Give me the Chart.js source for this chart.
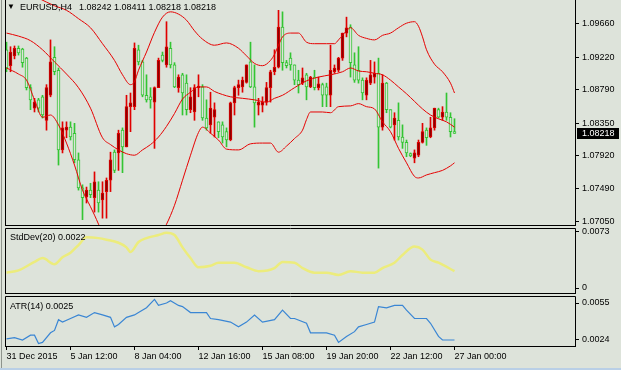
<!DOCTYPE html>
<html><head><meta charset="utf-8">
<script src="https://cdn.jsdelivr.net/npm/chart.js@4.4.1/dist/chart.umd.min.js"></script>
<style>
html,body{margin:0;padding:0;background:#dde3da;}
#wrap{position:relative;width:621px;height:370px;overflow:hidden;background:#dde3da;font-family:'Liberation Sans',Arial,sans-serif;}
canvas{position:absolute;left:0;top:0;}
.lbl{position:absolute;font-size:9px;line-height:10px;color:#000;white-space:nowrap;}
#edgeL{position:absolute;left:1px;top:0;width:1px;height:370px;background:#8e948c;}
#edgeB{position:absolute;left:0;top:368px;width:621px;height:2px;background:#b9cfe6;}
</style></head><body>
<div id="wrap">
<div id="edgeL"></div><div id="edgeB"></div>
<canvas id="cMain" width="621" height="370"></canvas>
<canvas id="cStd" width="621" height="370"></canvas>
<canvas id="cAtr" width="621" height="370"></canvas>
<div class="lbl" style="left:7px;top:2px;font-size:8px">&#9660;</div>
<div class="lbl" id="hdr" style="left:20px;top:2px"></div>
<div class="lbl" id="stdLbl" style="left:10px;top:232px"></div>
<div class="lbl" id="atrLbl" style="left:10px;top:301px"></div>
</div>
<script>
// ---------------- DATA ----------------
const symbol = 'EURUSD,H4';
const open = [1.0932,1.0911,1.0924,1.0934,1.0933,1.0921,1.0882,1.0855,1.0866,1.0870,
1.0839,1.0872,1.0922,1.0905,1.0800,1.0826,1.0830,1.0822,1.0787,1.0750,
1.0738,1.0747,1.0737,1.0747,1.0734,1.0745,1.0760,1.0797,1.0796,1.0826,
1.0804,1.0857,1.0857,1.0932,1.0916,1.0872,1.0870,1.0863,1.0882,1.0925,
1.0912,1.0934,1.0912,1.0882,1.0899,1.0888,1.0853,1.0850,1.0882,1.0883,
1.0842,1.0833,1.0843,1.0837,1.0833,1.0824,1.0813,1.0862,1.0882,1.0883,
1.0889,1.0916,1.0883,1.0859,1.0859,1.0863,1.0882,1.0903,1.0909,1.0962,
1.0915,1.0921,1.0912,1.0892,1.0888,1.0899,1.0883,1.0896,1.0882,1.0886,
1.0883,1.0872,1.0903,1.0905,1.0921,1.0954,1.0962,1.0912,1.0905,1.0892,
1.0872,1.0888,1.0896,1.0901,1.0830,1.0888,1.0853,1.0833,1.0839,1.0817,
1.0810,1.0795,1.0789,1.0793,1.0810,1.0826,1.0817,1.0829,1.0853,1.0843,
1.0850,1.0843,1.08242];
const high = [1.0942,1.0936,1.0937,1.0937,1.0934,1.0922,1.0886,1.0868,1.0868,1.0872,
1.0886,1.0945,1.0936,1.0908,1.0837,1.0837,1.0837,1.0835,1.0796,1.0754,
1.0751,1.0756,1.0771,1.0758,1.0758,1.0763,1.0797,1.0800,1.0826,1.0829,
1.0872,1.0875,1.0941,1.0938,1.0918,1.0899,1.0882,1.0883,1.0921,1.0929,
1.0969,1.0942,1.0915,1.0899,1.0901,1.0899,1.0882,1.0886,1.0899,1.0886,
1.0866,1.0876,1.0862,1.0837,1.0837,1.0829,1.0863,1.0884,1.0892,1.0896,
1.0912,1.0942,1.0912,1.0868,1.0870,1.0889,1.0905,1.0932,1.0984,1.0982,
1.0918,1.0928,1.0912,1.0905,1.0908,1.0901,1.0897,1.0905,1.0896,1.0888,
1.0888,1.0938,1.0912,1.0922,1.0954,1.0975,1.0965,1.0928,1.0936,1.0895,
1.0895,1.0918,1.0916,1.0921,1.0899,1.0889,1.0853,1.0849,1.0862,1.0833,
1.0813,1.0796,1.0800,1.0813,1.0835,1.0829,1.0843,1.0855,1.0855,1.0857,
1.0875,1.0849,1.08411];
const low = [1.0903,1.0903,1.0920,1.0925,1.0909,1.0879,1.0853,1.0850,1.0850,1.0842,
1.0826,1.0870,1.0899,1.0780,1.0796,1.0816,1.0813,1.0783,1.0747,1.0708,
1.0730,1.0737,1.0718,1.0718,1.0710,1.0710,1.0745,1.0770,1.0773,1.0770,
1.0804,1.0824,1.0853,1.0912,1.0870,1.0863,1.0855,1.0802,1.0882,1.0916,
1.0909,1.0908,1.0882,1.0876,1.0846,1.0846,1.0849,1.0839,1.0870,1.0839,
1.0826,1.0822,1.0817,1.0816,1.0809,1.0804,1.0812,1.0846,1.0872,1.0876,
1.0888,1.0882,1.0830,1.0846,1.0850,1.0859,1.0863,1.0899,1.0908,1.0905,
1.0908,1.0905,1.0886,1.0875,1.0886,1.0866,1.0882,1.0879,1.0879,1.0857,
1.0857,1.0857,1.0901,1.0903,1.0918,1.0949,1.0896,1.0889,1.0888,1.0866,
1.0866,1.0886,1.0888,1.0776,1.0826,1.0849,1.0829,1.0813,1.0813,1.0802,
1.0791,1.0791,1.0783,1.0791,1.0809,1.0806,1.0816,1.0826,1.0842,1.0839,
1.0839,1.0817,1.08218];
const close = [1.0908,1.0929,1.0934,1.0928,1.0915,1.0882,1.0866,1.0863,1.0855,1.0846,
1.0882,1.0916,1.0903,1.0800,1.0829,1.0830,1.0817,1.0787,1.0750,1.0737,
1.0747,1.0741,1.0758,1.0730,1.0743,1.0760,1.0787,1.0773,1.0822,1.0804,
1.0857,1.0862,1.0934,1.0916,1.0872,1.0866,1.0866,1.0882,1.0918,1.0918,
1.0936,1.0912,1.0883,1.0896,1.0875,1.0853,1.0870,1.0882,1.0884,1.0842,
1.0829,1.0855,1.0853,1.0824,1.0817,1.0813,1.0862,1.0882,1.0886,1.0892,
1.0912,1.0883,1.0862,1.0863,1.0863,1.0882,1.0903,1.0909,1.0962,1.0915,
1.0911,1.0912,1.0892,1.0886,1.0895,1.0883,1.0896,1.0882,1.0887,1.0872,
1.0872,1.0905,1.0908,1.0921,1.0954,1.0961,1.0915,1.0892,1.0892,1.0875,
1.0892,1.0899,1.0901,1.0830,1.0888,1.0853,1.0830,1.0842,1.0817,1.0810,
1.0796,1.0792,1.0796,1.0810,1.0824,1.0816,1.0829,1.0855,1.0843,1.0850,
1.0843,1.0824,1.08218];

// Bollinger Bands (20,2): [bar, value]
const bbUpper = [[0,1.1019],[4,1.1011],[8,1.1000],[12,1.0990],[15,1.0984],[18,1.0973],[21,1.0961],[24,1.0940],[27,1.0918],[29,1.0899],[31,1.0886],[32,1.0890],[33,1.0905],[35,1.0929],[37,1.0955],[39,1.0975],[41,1.0982],[43,1.0979],[45,1.0971],[47,1.0957],[49,1.0946],[52,1.0938],[55,1.0941],[58,1.0934],[60,1.0924],[62,1.0914],[64,1.0911],[66,1.0918],[67,1.0926],[68,1.0938],[69,1.0949],[71,1.0954],[73,1.0954],[75,1.0942],[77,1.0940],[80,1.0940],[82,1.0940],[83,1.0945],[85,1.0957],[86,1.0961],[88,1.0951],[90,1.0947],[92,1.0945],[94,1.0951],[96,1.0954],[98,1.0961],[100,1.0967],[102,1.0969],[103,1.0963],[104,1.0949],[105,1.0932],[107,1.0913],[109,1.0903],[111,1.0888],[112,1.0875]];
const bbMiddle = [[0,1.0954],[3,1.0950],[6,1.0944],[9,1.0932],[12,1.0916],[15,1.0900],[18,1.0882],[21,1.0855],[24,1.0816],[26,1.0807],[28,1.0800],[30,1.0795],[32,1.0793],[34,1.0800],[36,1.0807],[38,1.0817],[40,1.0831],[42,1.0848],[44,1.0867],[46,1.0876],[48,1.0883],[50,1.0883],[52,1.0877],[54,1.0873],[56,1.0870],[59,1.0868],[62,1.0866],[65,1.0863],[67,1.0868],[69,1.0872],[72,1.0882],[75,1.0891],[78,1.0896],[81,1.0899],[84,1.0903],[86,1.0908],[88,1.0904],[90,1.0903],[92,1.0901],[94,1.0899],[96,1.0892],[98,1.0883],[100,1.0874],[102,1.0864],[104,1.0854],[106,1.0846],[108,1.0841],[110,1.0837],[112,1.0830]];
const bbLower = [[0,1.0908],[3,1.0900],[5,1.0892],[7,1.0866],[9,1.0843],[11,1.0846],[13,1.0833],[15,1.0809],[17,1.0780],[19,1.0747],[21,1.0725],[22,1.0714],[24,1.0692],[27,1.0681],[31,1.0687],[35,1.0679],[38,1.0684],[40,1.0702],[42,1.0727],[44,1.0760],[46,1.0793],[48,1.0823],[49,1.0830],[51,1.0822],[53,1.0813],[55,1.0801],[58,1.0800],[61,1.0808],[64,1.0809],[66,1.0809],[68,1.0797],[70,1.0805],[72,1.0815],[74,1.0826],[75,1.0840],[76,1.0850],[79,1.0850],[81,1.0849],[83,1.0857],[86,1.0858],[88,1.0861],[90,1.0857],[92,1.0854],[94,1.0837],[96,1.0824],[98,1.0802],[100,1.0783],[102,1.0765],[103,1.0763],[105,1.0767],[107,1.0770],[109,1.0773],[111,1.0779],[112,1.0783]];

// StdDev(20) and ATR(14): [bar, value]
const stdDev = [[0,0.0020],[3,0.0023],[7,0.0034],[9,0.0039],[12,0.0031],[14,0.0040],[16,0.0046],[18,0.0056],[20,0.0066],[23,0.0065],[25,0.0063],[28,0.0059],[30,0.0053],[31,0.0047],[33,0.0060],[35,0.0065],[38,0.0069],[40,0.0072],[42,0.0069],[44,0.0053],[46,0.0039],[48,0.0027],[51,0.0029],[53,0.0033],[57,0.0033],[60,0.0027],[63,0.0022],[67,0.0026],[69,0.0034],[72,0.0033],[74,0.0026],[77,0.0020],[80,0.0020],[83,0.0017],[86,0.0022],[89,0.0020],[92,0.0020],[94,0.0026],[97,0.0033],[99,0.0043],[102,0.0054],[104,0.0050],[106,0.0037],[108,0.0033],[112,0.0022]];
const atr = [[0,0.0025],[2,0.0026],[4,0.0024],[6,0.0028],[7,0.0028],[8,0.0021],[9,0.0022],[11,0.0030],[12,0.0032],[13,0.0041],[14,0.0039],[16,0.0042],[18,0.0045],[20,0.0043],[22,0.0047],[24,0.0045],[26,0.0043],[27,0.0035],[28,0.0037],[30,0.0043],[32,0.0045],[33,0.0047],[35,0.0051],[37,0.0058],[38,0.0053],[40,0.0055],[41,0.0057],[43,0.0053],[44,0.0052],[46,0.0047],[48,0.0047],[50,0.0047],[51,0.0042],[53,0.0041],[56,0.0039],[58,0.0035],[60,0.0039],[62,0.0045],[64,0.0039],[67,0.0041],[69,0.0049],[71,0.0042],[72,0.0042],[75,0.0038],[76,0.0030],[78,0.0030],[80,0.0030],[82,0.0028],[83,0.0022],[85,0.0027],[87,0.0031],[88,0.0035],[90,0.0037],[92,0.0039],[93,0.0052],[95,0.0051],[97,0.0053],[99,0.0053],[100,0.0049],[102,0.0042],[105,0.0042],[106,0.0038],[108,0.0027],[109,0.0024],[110,0.0024],[112,0.0024]];
const stdDevLabel = 'StdDev(20) 0.0022';
const atrLabel = 'ATR(14) 0.0025';

// axis ticks
const priceTicks = [1.07050,1.07490,1.07920,1.08350,1.08790,1.09220,1.09660];
const stdTicks = [0, 0.0073];
const atrTicks = [0.0024, 0.0055];
const xTickBars = [0,16,32,48,64,80,96,112];
const xTickLabels = ['31 Dec 2015','5 Jan 12:00','8 Jan 04:00','12 Jan 16:00','15 Jan 08:00','19 Jan 20:00','22 Jan 12:00','27 Jan 00:00'];

// ---------------- STYLE ----------------
const BG = '#dde3da';
const UP_FILL = '#8b0000', UP_LINE = '#e00000';
const DN_LINE = '#33c533';
const BAND = '#e60000';
const FONT = "'Liberation Sans', Arial, sans-serif";
const X_MIN = -0.375, X_MAX = 142.125;
const AXIS_W = 46;

Chart.defaults.font.family = FONT;
Chart.defaults.font.size = 9;
Chart.defaults.color = '#000';
Chart.defaults.animation = false;

const last = close.length - 1;
document.getElementById('hdr').textContent = symbol + '\u2002 ' + [open[last],high[last],low[last],close[last]].map(v=>v.toFixed(5)).join(' ');
document.getElementById('stdLbl').textContent = stdDevLabel;
document.getElementById('atrLbl').textContent = atrLabel;

const bars = close.map((_, i) => i);
const isUp = i => close[i] >= open[i];

function yAxisFit(s){ s.width = AXIS_W; s.paddingTop = 0; s.paddingBottom = 0; }

function framePlugin(sides){
  return { id:'frame', afterDraw(chart){
    const {ctx, chartArea:a} = chart;
    ctx.save(); ctx.strokeStyle = '#000'; ctx.lineWidth = 1;
    ctx.beginPath();
    const L = a.left + 0.5, R = a.right + 0.5, T = a.top + 0.5, B = a.bottom + 0.5;
    ctx.moveTo(L, sides.top ? T : 0); ctx.lineTo(L, B + 0.5);
    ctx.moveTo(R, sides.top ? T : 0); ctx.lineTo(R, B + 0.5);
    ctx.moveTo(L, B); ctx.lineTo(R, B);
    if (sides.top){ ctx.moveTo(L, T); ctx.lineTo(R, T); }
    ctx.stroke(); ctx.restore();
  }};
}

const baseX = (display) => ({
  type:'linear', min:X_MIN, max:X_MAX, offset:false, display,
  grid:{display, drawOnChartArea:false, drawTicks:true, tickLength:4, color:'#000', tickColor:'#000', offset:false},
  border:{display:false},
  afterBuildTicks: s => { s.ticks = xTickBars.map(v => ({value:v})); },
  afterFit: s => { s.paddingLeft = 0; s.paddingRight = 0; s.height = display ? 24 : 0; },
  ticks:{ display, autoSkip:false, maxRotation:0, minRotation:0, align:'start', padding:1, callback:(v,i)=>xTickLabels[i] }
});
const baseY = (min, max, ticks, fmt) => ({
  type:'linear', position:'right', min, max,
  grid:{drawOnChartArea:false, drawTicks:true, tickLength:4, color:'#000', tickColor:'#000'},
  border:{display:false},
  afterBuildTicks: s => { s.ticks = ticks.map(v => ({value:v})); },
  afterFit: yAxisFit,
  ticks:{ padding:3, callback: fmt }
});
const common = { responsive:false, events:[], plugins:{legend:{display:false}, tooltip:{enabled:false}} };

// ---------------- MAIN PRICE CHART ----------------
const lineDs = (pts, color) => ({ type:'line', data: pts.map(([x,y])=>({x,y})), borderColor:color, borderWidth:1,
  pointRadius:0, cubicInterpolationMode:'monotone', clip:0, order:0 });

const pricePlugin = { id:'lastPrice', afterDraw(chart){
  const {ctx} = chart; const y = Math.round(chart.scales.y.getPixelForValue(close[last]));
  ctx.save(); ctx.fillStyle = '#000'; ctx.fillRect(577, y - 5, 42, 11);
  ctx.fillStyle = '#fff'; ctx.font = '9px ' + FONT; ctx.textBaseline = 'middle'; ctx.textAlign = 'left';
  ctx.fillText(close[last].toFixed(5), 582, y + 0.5); ctx.restore();
}};

new Chart(document.getElementById('cMain'), {
  type:'bar',
  data:{ datasets:[
    lineDs(bbUpper, BAND), lineDs(bbMiddle, BAND), lineDs(bbLower, BAND),
    { type:'bar', data: bars.map(i => ({x:i, y:[open[i], close[i]]})), grouped:false, barThickness:3, borderWidth:1, borderSkipped:false,
      backgroundColor: c => isUp(c.dataIndex) ? UP_FILL : BG, borderColor: c => isUp(c.dataIndex) ? UP_LINE : DN_LINE, clip:0, order:1 },
    { type:'bar', data: bars.map(i => ({x:i, y:[low[i], high[i]]})), grouped:false, barThickness:1, borderWidth:0,
      backgroundColor: c => isUp(c.dataIndex) ? UP_LINE : DN_LINE, clip:0, order:2 }
  ]},
  options:{ ...common, layout:{padding:{left:5, right:0, top:0, bottom:145}},
    scales:{ x: baseX(false), y: baseY(1.07010, 1.09976, priceTicks, v => v.toFixed(5)) } },
  plugins:[framePlugin({top:false}), pricePlugin]
});

// ---------------- STDDEV ----------------
new Chart(document.getElementById('cStd'), {
  type:'line',
  data:{ datasets:[{ data: stdDev.map(([x,y])=>({x,y})), borderColor:'#ecec7c', borderWidth:2.5, pointRadius:0, cubicInterpolationMode:'monotone', clip:0 }]},
  options:{ ...common, layout:{padding:{left:5, right:0, top:228, bottom:77}},
    scales:{ x: baseX(false), y: baseY(-0.00065, 0.00782, stdTicks, v => v === 0 ? '0' : v.toFixed(4)) } },
  plugins:[framePlugin({top:true})]
});

// ---------------- ATR ----------------
new Chart(document.getElementById('cAtr'), {
  type:'line',
  data:{ datasets:[{ data: atr.map(([x,y])=>({x,y})), borderColor:'#3a86d4', borderWidth:1.2, pointRadius:0, tension:0, clip:0 }]},
  options:{ ...common, layout:{padding:{left:5, right:0, top:296, bottom:0}},
    scales:{ x: baseX(true), y: baseY(0.001897, 0.006087, atrTicks, v => v.toFixed(4)) } },
  plugins:[framePlugin({top:true})]
});
</script>
</body></html>
